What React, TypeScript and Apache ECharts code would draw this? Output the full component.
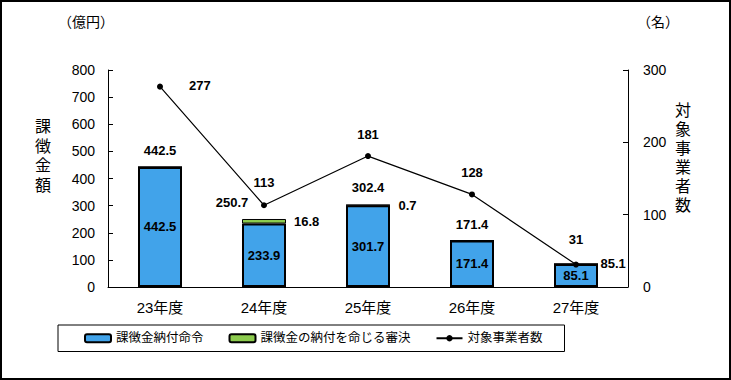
import React, { useEffect, useRef } from "react";
import * as echarts from "echarts";

const categories = ["23年度", "24年度", "25年度", "26年度", "27年度"];
const orderValues = [442.5, 233.9, 301.7, 171.4, 85.1];
const decisionValues = [0, 16.8, 0.7, 0, 0];
const totals = [442.5, 250.7, 302.4, 171.4, 85.1];
const companyCounts = [277, 113, 181, 128, 31];

const FONT = "'Liberation Sans', 'Noto Sans CJK JP', sans-serif";

export default function App() {
  const ref = useRef<HTMLDivElement>(null);
  useEffect(() => {
    if (!ref.current) return;
    const chart = echarts.init(ref.current, null, { renderer: "svg" });
    const totalLabelCfg = [
      { position: "top", distance: 9, offset: [0, 0] },
      { position: "top", distance: 9, offset: [-32, 0] },
      { position: "top", distance: 10, offset: [0, 0] },
      { position: "top", distance: 9, offset: [0, 0] },
      { position: "right", distance: 24, offset: [0, 0] },
    ];
    const lineLabelCfg = [
      { position: "right", distance: 26, offset: [0, -1] },
      { position: "top", distance: 13, offset: [0, 0] },
      { position: "top", distance: 12, offset: [0, 0] },
      { position: "top", distance: 12, offset: [0, 0] },
      { position: "top", distance: 16, offset: [0, 0] },
    ];
    const labelText = { color: "#000", fontWeight: "bold", fontSize: 13, fontFamily: FONT };
    chart.setOption({
      animation: false,
      textStyle: { fontFamily: FONT },
      grid: { left: 108, right: 103, top: 70, height: 217 },
      legend: {
        data: ["課徴金納付命令", "課徴金の納付を命じる審決", "対象事業者数"],
        left: 58,
        top: 325,
        padding: [7, 22, 7, 26],
        borderColor: "#000",
        borderWidth: 1,
        itemWidth: 26,
        itemHeight: 8,
        itemGap: 25,
        textStyle: { color: "#000", fontSize: 12.5, fontFamily: FONT },
      },
      xAxis: {
        type: "category",
        data: categories,
        axisLine: { lineStyle: { color: "#000", width: 1 } },
        axisTick: { inside: true, length: 5, lineStyle: { color: "#000" } },
        axisLabel: { color: "#000", fontSize: 15, margin: 13, fontFamily: FONT },
      },
      yAxis: [
        {
          type: "value",
          min: 0,
          max: 800,
          interval: 100,
          splitLine: { show: false },
          axisLine: { show: true, lineStyle: { color: "#000", width: 1 } },
          axisTick: { show: true, inside: true, length: 5, lineStyle: { color: "#000" } },
          axisLabel: { color: "#000", fontSize: 14, margin: 13, fontFamily: FONT },
        },
        {
          type: "value",
          min: 0,
          max: 300,
          interval: 100,
          splitLine: { show: false },
          axisLine: { show: true, lineStyle: { color: "#000", width: 1 } },
          axisTick: { show: true, inside: true, length: 5, lineStyle: { color: "#000" } },
          axisLabel: { color: "#000", fontSize: 14, margin: 15, fontFamily: FONT },
        },
      ],
      series: [
        {
          name: "課徴金納付命令",
          type: "bar",
          stack: "a",
          barWidth: 44,
          data: orderValues,
          itemStyle: { color: "#41A3EA", borderColor: "#000", borderWidth: 2 },
          label: { show: true, position: "inside", ...labelText },
        },
        {
          name: "課徴金の納付を命じる審決",
          type: "bar",
          stack: "a",
          barWidth: 44,
          data: decisionValues,
          itemStyle: { color: "#8CCB4E", borderColor: "#000", borderWidth: 1 },
          label: {
            show: true,
            position: "right",
            distance: 8,
            ...labelText,
            formatter: (p: any) => (p.value ? String(p.value) : ""),
          },
        },
        {
          name: "合計",
          type: "line",
          symbol: "circle",
          symbolSize: 1,
          silent: true,
          lineStyle: { width: 0, opacity: 0 },
          itemStyle: { color: "rgba(0,0,0,0)" },
          data: totals.map((v, i) => ({
            value: v,
            label: {
              show: true,
              ...totalLabelCfg[i],
              ...labelText,
              formatter: (p: any) => Number(p.value).toFixed(1),
            },
          })),
        },
        {
          name: "対象事業者数",
          type: "line",
          yAxisIndex: 1,
          symbol: "circle",
          symbolSize: 6,
          lineStyle: { color: "#000", width: 1.2 },
          itemStyle: { color: "#000" },
          data: companyCounts.map((v, i) => ({
            value: v,
            label: { show: true, ...lineLabelCfg[i], ...labelText },
          })),
        },
      ],
      graphic: [
        {
          type: "text",
          left: 58,
          top: 15,
          style: { text: "（億円）", fontSize: 14, fill: "#000", fontFamily: FONT },
        },
        {
          type: "text",
          left: 637,
          top: 15,
          style: { text: "（名）", fontSize: 14, fill: "#000", fontFamily: FONT },
        },
        {
          type: "text",
          left: 35,
          top: 117,
          style: { text: "課\n徴\n金\n額", fontSize: 16, lineHeight: 19.5, fill: "#000", fontFamily: FONT },
        },
        {
          type: "text",
          left: 675,
          top: 101,
          style: { text: "対\n象\n事\n業\n者\n数", fontSize: 16, lineHeight: 19, fill: "#000", fontFamily: FONT },
        },
      ],
    });
    return () => chart.dispose();
  }, []);
  return (
    <div
      style={{
        position: "fixed",
        left: 0,
        top: 0,
        width: 731,
        height: 380,
        boxSizing: "border-box",
        border: "2px solid #000",
        background: "#fff",
      }}
    >
      <div ref={ref} style={{ position: "absolute", left: -2, top: -2, width: 731, height: 380 }} />
    </div>
  );
}
